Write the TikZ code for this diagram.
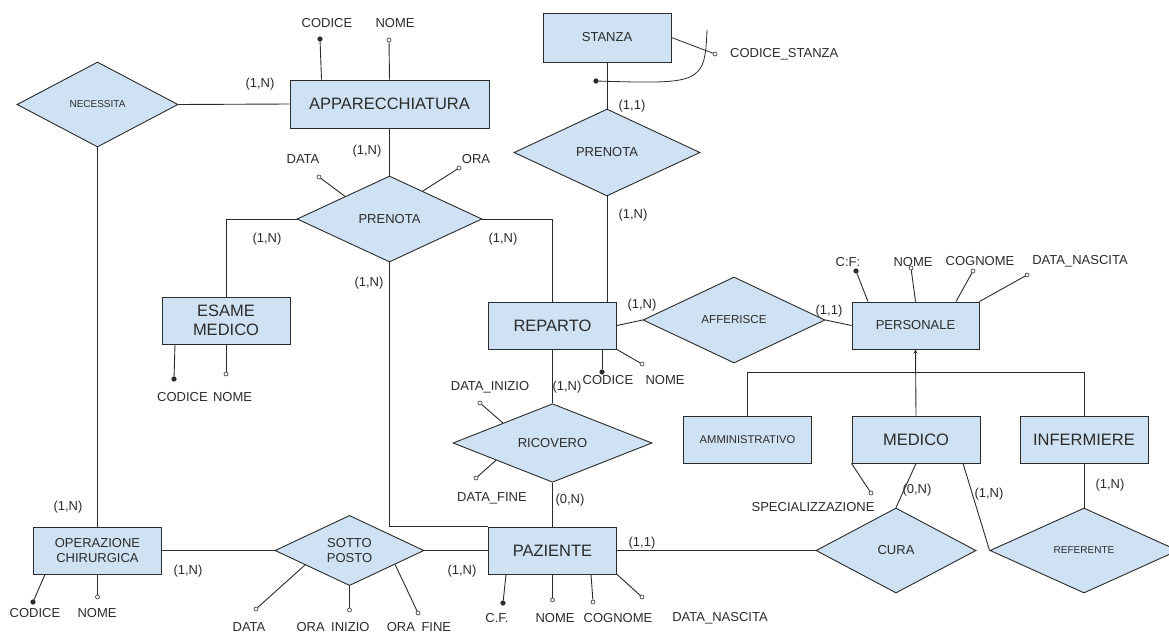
\documentclass[tikz,border=0pt]{standalone}
\usepackage{fontspec}
\setmainfont{Liberation Sans}
\usepackage{xcolor}
\usepackage{tikz}
\usetikzlibrary{shapes,arrows}

\definecolor{erblue}{HTML}{CFE2F3}
\definecolor{erline}{HTML}{2B2B2B}

\begin{document}
\begin{tikzpicture}[
    x=1pt, y=-1pt,
    entity/.style={rectangle, draw=erline, fill=erblue, line width=0.9pt, inner sep=0pt, align=center, text=erline, minimum width=128pt, minimum height=47pt, font=\fontsize{13}{15.7}\selectfont},
    relation/.style={diamond, draw=erline, fill=erblue, line width=0.9pt, inner sep=0pt, align=center, text=erline, font=\fontsize{13}{15.7}\selectfont},
    bigfont/.style={font=\fontsize{16.5}{19}\selectfont},
    smallfont/.style={font=\fontsize{10}{12}\selectfont},
    link/.style={draw=erline, line width=0.9pt},
    keyattr/.style={circle, draw=erline, fill=erline, line width=0.6pt, inner sep=0pt, minimum size=4.5pt},
    attr/.style={circle, draw=erline, fill=white, line width=0.6pt, inner sep=0pt, minimum size=4pt},
    txt/.style={inner sep=0pt, text=erline, font=\fontsize{13}{15}\selectfont}
]
\fill[white, use as bounding box] (0,0) rectangle (1169,632);

% entities
\node[entity, bigfont, minimum width=199pt, minimum height=48pt] (app) at (389.5,104) {APPARECCHIATURA};
\node[entity, minimum height=49pt] (stanza) at (607,37.5) {STANZA};
\node[entity, bigfont] (esame) at (226,320.5) {ESAME\\MEDICO};
\node[entity] (oper) at (97.5,550.5) {OPERAZIONE\\CHIRURGICA};
\node[entity, bigfont] (reparto) at (552.5,325.5) {REPARTO};
\node[entity, minimum width=127pt] (personale) at (915.5,325.5) {PERSONALE};
\node[entity, bigfont] (paziente) at (552.5,550.5) {PAZIENTE};
\node[entity, font=\fontsize{11.2}{13}\selectfont] (ammin) at (747.5,439.5) {AMMINISTRATIVO};
\node[entity, bigfont] (medico) at (916,439.5) {MEDICO};
\node[entity, bigfont] (inferm) at (1084,439.5) {INFERMIERE};

% relationships
\node[relation, smallfont, minimum width=161pt, minimum height=85pt] (necessita) at (97.5,104.5) {NECESSITA};
\node[relation, minimum width=185pt, minimum height=86pt] (prenotaA) at (389.5,219) {PRENOTA};
\node[relation, minimum width=186pt, minimum height=87pt] (prenotaB) at (607,152.5) {PRENOTA};
\node[relation, font=\fontsize{11.6}{14}\selectfont, minimum width=182pt, minimum height=86pt] (afferisce) at (734,320) {AFFERISCE};
\node[relation, minimum width=199pt, minimum height=66pt] (ricovero) at (552.5,443) {RICOVERO};
\node[relation, minimum width=149pt, minimum height=67pt] (sottoposto) at (349.5,550.5) {SOTTO\\POSTO};
\node[relation, minimum width=160pt, minimum height=85pt] (cura) at (896,550.5) {CURA};
\node[relation, smallfont, minimum width=188pt, minimum height=85pt] (referente) at (1084,550.5) {REFERENTE};

% links
\draw[link] (necessita.east) -- (app.west);
\draw[link] (necessita.south) -- (oper.north);
\draw[link] (app.south) -- (prenotaA.north);
\draw[link] (prenotaA.west) -| (esame.north);
\draw[link] (prenotaA.east) -| (reparto.north);
\draw[link] (prenotaA.south) |- (paziente.north west);
\draw[link] (stanza.south) -- (prenotaB.north);
\draw[link] (prenotaB.south) -- (prenotaB.south |- reparto.north);
\draw[link] (reparto.east) -- (afferisce.west);
\draw[link] (afferisce.east) -- (personale.west);
\draw[link] (reparto.south) -- (ricovero.north);
\draw[link] (ricovero.south) -- (paziente.north);
\draw[link] (oper.east) -- (sottoposto.west);
\draw[link] (sottoposto.east) -- (paziente.west);
\draw[link] (paziente.east) -- (cura.west);
\draw[link] (medico.south) -- (cura.north);
\draw[link] ([xshift=47pt]medico.south) -- (referente.west);
\draw[link] (inferm.south) -- (referente.north);

% generalizzazione
\coordinate (isa) at (916,372);
\draw[link] (ammin.north) -- (ammin.north |- isa) -- (inferm.north |- isa) -- (inferm.north);
\draw[link, ->, >=stealth] (medico.north) -- (personale.south);

% attributes
\node[keyattr] (kAppCod) at (320,39) {};
\node[attr] (pAppNome) at (389,40) {};
\draw[link] ([xshift=-68pt]app.north) -- (kAppCod);
\draw[link] (app.north) -- (pAppNome);
\node[txt] (tAppCod) at (327,23) {CODICE};
\node[txt] (tAppNome) at (395,23) {NOME};

\node[attr] (pStanzaCod) at (715,54) {};
\draw[link, line width=0.8pt] (stanza.east) -- (pStanzaCod);
\node[txt, anchor=west] (tStanzaCod) at (730,54) {CODICE\_STANZA};
\node[keyattr] (kStanza) at (596,81) {};
\coordinate (idEnd) at (707,30);
\draw[link, line width=0.8pt] (kStanza) .. controls (700,84) and (705,84) .. (idEnd);

\node[attr] (pDataA) at (319,177) {};
\node[attr] (pOraA) at (459,168) {};
\draw[link] (prenotaA.153) -- (pDataA);
\draw[link] (prenotaA.40) -- (pOraA);
\node[txt] (tDataA) at (303,159) {DATA};
\node[txt] (tOraA) at (476,159) {ORA};

\node[keyattr] (kEsCod) at (174,379) {};
\node[attr] (pEsNome) at (226,374) {};
\draw[link] ([xshift=-51pt]esame.south) -- (kEsCod);
\draw[link] (esame.south) -- (pEsNome);
\node[txt] (tEsCod) at (182.5,397) {CODICE};
\node[txt] (tEsNome) at (232.5,397) {NOME};

\node[keyattr] (kOpCod) at (33,602) {};
\node[attr] (pOpNome) at (97.5,597) {};
\draw[link] ([xshift=-52.5pt]oper.south) -- (kOpCod);
\draw[link] (oper.south) -- (pOpNome);
\node[txt] (tOpCod) at (35,613) {CODICE};
\node[txt] (tOpNome) at (97,613) {NOME};

\node[attr] (pSpData) at (256,609) {};
\node[attr] (pSpInizio) at (349.5,610) {};
\node[attr] (pSpFine) at (418,613) {};
\draw[link] (sottoposto.198) -- (pSpData);
\draw[link] (sottoposto.south) -- (pSpInizio);
\draw[link] (sottoposto.343) -- (pSpFine);
\node[txt] (tSpData) at (249,627) {DATA};
\node[txt] (tSpInizio) at (333,627) {ORA\hspace{0.5em}INIZIO};
\node[txt] (tSpFine) at (419,627) {ORA\hspace{0.5em}FINE};

\node[keyattr] (kRepCod) at (602,372) {};
\node[attr] (pRepNome) at (642,364) {};
\draw[link] ([xshift=49.5pt]reparto.south) -- (kRepCod);
\draw[link] (reparto.south east) -- (pRepNome);
\node[txt] (tRepCod) at (608,380) {CODICE};
\node[txt] (tRepNome) at (665,380) {NOME};

\node[attr] (pRicInizio) at (480,403) {};
\node[attr] (pRicFine) at (476,478) {};
\draw[link] (ricovero.158) -- (pRicInizio);
\draw[link] (ricovero.197) -- (pRicFine);
\node[txt] (tRicInizio) at (490,387) {DATA\_INIZIO};
\node[txt] (tRicFine) at (492,498) {DATA\_FINE};

\node[keyattr] (kPazCf) at (503,603) {};
\node[attr] (pPazNome) at (552.5,600) {};
\node[attr] (pPazCogn) at (593,602) {};
\node[attr] (pPazNasc) at (642,597) {};
\draw[link] ([xshift=-46.5pt]paziente.south) -- (kPazCf);
\draw[link] (paziente.south) -- (pPazNome);
\draw[link] ([xshift=38.5pt]paziente.south) -- (pPazCogn);
\draw[link] (paziente.south east) -- (pPazNasc);
\node[txt] (tPazCf) at (497,618) {C.F.};
\node[txt] (tPazNome) at (555,618) {NOME};
\node[txt] (tPazCogn) at (618,618) {COGNOME};
\node[txt] (tPazNasc) at (720,618) {DATA\_NASCITA};

\node[keyattr] (kPerCf) at (856,271) {};
\node[attr] (pPerNome) at (911,268) {};
\node[attr] (pPerCogn) at (973,271) {};
\node[attr] (pPerNasc) at (1027,275) {};
\draw[link] ([xshift=-47.5pt]personale.north) -- (kPerCf);
\draw[link] (personale.north) -- (pPerNome);
\draw[link] ([xshift=40.5pt]personale.north) -- (pPerCogn);
\draw[link] (personale.north east) -- (pPerNasc);
\node[txt] (tPerCf) at (848,262) {C:F:};
\node[txt] (tPerNome) at (913,262) {NOME};
\node[txt] (tPerCogn) at (980,261) {COGNOME};
\node[txt] (tPerNasc) at (1080,261) {DATA\_NASCITA};

\node[attr] (pMedSpec) at (871,493) {};
\draw[link] (medico.south west) -- (pMedSpec);
\node[txt] (tMedSpec) at (813,507) {SPECIALIZZAZIONE};

% cardinalities
\node[txt] (c1) at (260,84) {(1,N)};
\node[txt] (c2) at (367,151) {(1,N)};
\node[txt] (c3) at (267,239) {(1,N)};
\node[txt] (c4) at (503,239) {(1,N)};
\node[txt] (c5) at (369,283) {(1,N)};
\node[txt] (c6) at (632,106) {(1,1)};
\node[txt] (c7) at (633,215) {(1,N)};
\node[txt] (c8) at (642,305) {(1,N)};
\node[txt] (c9) at (829,311) {(1,1)};
\node[txt] (c10) at (567,387) {(1,N)};
\node[txt] (c11) at (570,500) {(0,N)};
\node[txt] (c12) at (68,507) {(1,N)};
\node[txt] (c13) at (188,571) {(1,N)};
\node[txt] (c14) at (462,571) {(1,N)};
\node[txt] (c15) at (642,543) {(1,1)};
\node[txt] (c16) at (917,490) {(0,N)};
\node[txt] (c17) at (989,494) {(1,N)};
\node[txt] (c18) at (1110,485) {(1,N)};

\end{tikzpicture}
\end{document}
